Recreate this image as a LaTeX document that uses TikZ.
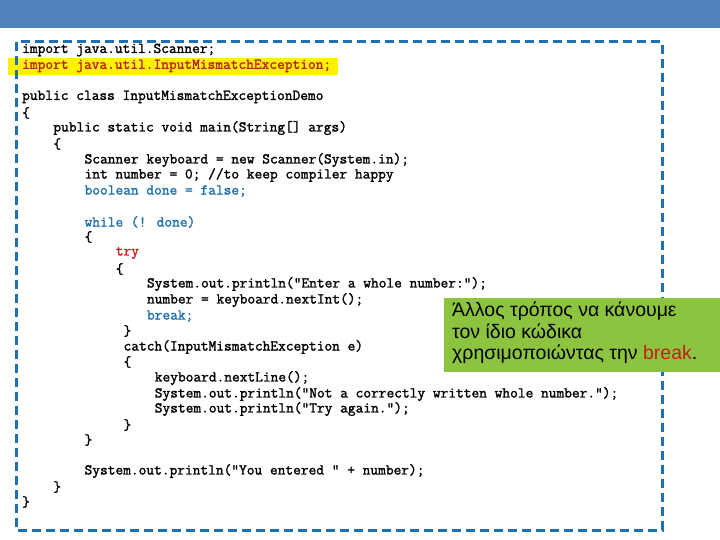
\documentclass[tikz,border=0pt]{standalone}
\usepackage{fontspec}
\setmainfont{Liberation Sans}
\newfontfamily\codefont[AutoFakeBold=1.6]{Latin Modern Mono}
\begin{document}
\begin{tikzpicture}[x=1pt,y=-1pt,
  code/.style={anchor=west,inner sep=0pt,font=\codefont\bfseries\fontsize{15}{15}\selectfont},
  kw/.style={code,text=codeblue},
  rd/.style={code,text=codered}]
\definecolor{barblue}{HTML}{4F81BD}
\definecolor{codeblue}{HTML}{2070B0}
\definecolor{codered}{HTML}{C0201A}
\definecolor{boxgreen}{HTML}{8CC43F}
\useasboundingbox (0,0) rectangle (720,540);
\fill[barblue] (0,0) rectangle (720,28);
\fill[yellow] (8,58) rectangle (338,75);
\draw[codeblue,line width=3pt,dash pattern=on 9pt off 5pt] (16,42) rectangle (662,530);
\def\cw{7.8}
\newcommand\codeln[5]{\node[#1] (#2) at (22+#3*\cw,#4) {#5};}
\codeln{code}{l1}{0}{50}{import java.util.Scanner;}
\codeln{rd}{l2}{0}{66}{import java.util.InputMismatchException;}
\codeln{code}{l3}{0}{97}{public class InputMismatchExceptionDemo}
\codeln{code}{l4}{0}{113}{\{}
\codeln{code}{l5}{4}{128}{public static void main(String[] args)}
\codeln{code}{l6}{4}{144}{\{}
\codeln{code}{l7}{8}{160}{Scanner keyboard = new Scanner(System.in);}
\codeln{code}{l8}{8}{175}{int number = 0; //to keep compiler happy}
\codeln{kw}{l9}{8}{191}{boolean done = false;}
\codeln{kw}{l10}{8}{222}{while (! done)}
\codeln{code}{l11}{8}{237}{\{}
\codeln{rd}{l12}{12}{253}{try}
\codeln{code}{l13}{12}{269}{\{}
\codeln{code}{l14}{16}{284}{System.out.println("Enter a whole number:");}
\codeln{code}{l15}{16}{300}{number = keyboard.nextInt();}
\codeln{kw}{l16}{16}{316}{break;}
\codeln{code}{l17}{13}{331}{\}}
\codeln{code}{l18}{13}{347}{catch(InputMismatchException e)}
\codeln{code}{l19}{13}{362}{\{}
\codeln{code}{l20}{17}{378}{keyboard.nextLine();}
\codeln{code}{l21}{17}{394}{System.out.println("Not a correctly written whole number.");}
\codeln{code}{l22}{17}{409}{System.out.println("Try again.");}
\codeln{code}{l23}{13}{425}{\}}
\codeln{code}{l24}{8}{440}{\}}
\codeln{code}{l25}{8}{471}{System.out.println("You entered " + number);}
\codeln{code}{l26}{4}{487}{\}}
\codeln{code}{l27}{0}{502}{\}}
\fill[boxgreen] (444,298) rectangle (720,372);
\node[anchor=north west,inner sep=0pt,align=left,font=\fontsize{19.5}{21.5}\selectfont] (note) at (452,302)
  {Άλλος τρόπος να κάνουμε\\τον ίδιο κώδικα\\χρησιμοποιώντας την \textcolor{codered}{break}.};
\end{tikzpicture}
\end{document}
